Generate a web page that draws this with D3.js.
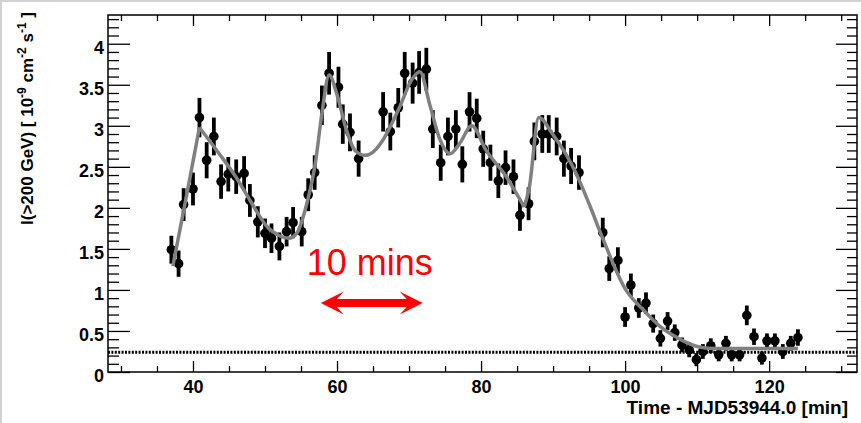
<!DOCTYPE html>
<html>
<head>
<meta charset="utf-8">
<script src="https://cdn.jsdelivr.net/npm/d3@7"></script>
<style>
  body { margin: 0; background: #fff; }
  svg { display: block; }
</style>
</head>
<body>
<div id="chart-area"></div>
<script>
// light curve: flux above 200 GeV vs time (min after MJD53944.0)

const times = [37.0, 38.0, 38.7, 40.0, 40.9, 41.9, 42.9, 43.9, 44.9, 46.0, 47.1, 47.9, 49.0, 50.0, 50.9,
  52.0, 53.0, 53.9, 55.1, 56.0, 56.9, 57.9, 58.9, 60.2, 60.8, 61.8, 63.0, 66.4, 67.4, 68.5, 69.4, 70.5,
  71.4, 72.4, 73.3, 74.4, 75.4, 76.5, 77.4, 78.4, 79.4, 80.3, 81.3, 82.4, 83.4, 84.5, 85.4, 86.6, 87.4,
  88.5, 89.4, 90.5, 91.5, 92.5, 93.6, 96.9, 97.8, 99.0, 100.0, 100.8, 101.9, 102.9, 103.9, 104.9, 105.9,
  106.9, 107.9, 108.9, 109.9, 110.8, 111.9, 113.0, 114.0, 114.8, 115.9, 116.9, 117.9, 119.0, 119.7,
  120.8, 121.9, 123.0, 124.0]

const flux = [1.49, 1.32, 2.04, 2.23, 3.10, 2.58, 2.87, 2.32, 2.41, 2.38, 2.42, 2.09, 1.83, 1.69, 1.63,
  1.53, 1.71, 1.82, 1.71, 2.16, 2.43, 3.25, 3.64, 3.47, 3.02, 2.92, 2.60, 3.17, 2.93, 3.22, 3.64, 3.52,
  3.65, 3.69, 2.96, 2.55, 2.87, 2.96, 2.53, 3.17, 3.09, 2.72, 2.55, 2.33, 2.49, 2.38, 1.91, 2.05, 2.81,
  2.90, 2.90, 2.87, 2.60, 2.51, 2.43, 1.70, 1.26, 1.36, 0.67, 1.06, 0.78, 0.84, 0.59, 0.41, 0.62,
  0.48, 0.33, 0.27, 0.15, 0.25, 0.32, 0.21, 0.35, 0.21, 0.21, 0.69, 0.43, 0.17, 0.38,
  0.38, 0.25, 0.35, 0.42]

const fluxErr = [0.17, 0.16, 0.20, 0.20, 0.24, 0.22, 0.23, 0.21, 0.21, 0.21, 0.21, 0.20, 0.19, 0.18, 0.18,
  0.17, 0.18, 0.19, 0.18, 0.20, 0.21, 0.24, 0.26, 0.25, 0.24, 0.23, 0.22, 0.24, 0.23, 0.24, 0.26, 0.25,
  0.26, 0.26, 0.23, 0.22, 0.23, 0.23, 0.22, 0.24, 0.24, 0.22, 0.22, 0.21, 0.21, 0.21, 0.19, 0.20, 0.23,
  0.23, 0.23, 0.23, 0.22, 0.22, 0.21, 0.18, 0.15, 0.16, 0.12, 0.14, 0.12, 0.13, 0.11, 0.10, 0.11,
  0.10, 0.09, 0.09, 0.08, 0.09, 0.09, 0.08, 0.09, 0.08, 0.08, 0.12, 0.10, 0.08, 0.09,
  0.09, 0.09, 0.09, 0.10]

// fitted model curve; it has sharp corners at the cusp times
const fitTimes = [37.2, 39.0, 40.9, 43.3, 46.0, 48.0, 50.3, 52.0, 53.3, 54.4, 55.8, 57.0, 57.9, 58.9,
  60.0, 61.3, 62.5, 63.9, 65.0, 66.4, 68.7, 70.3, 71.5, 72.9, 74.3, 75.7, 77.0, 78.7, 80.7, 83.5,
  86.0, 86.7, 88.0, 90.0, 93.2, 95.0, 96.8, 100.1, 102.5, 104.8, 106.6, 108.5, 110.0, 111.5, 113.5, 124.0]
const fitFlux = [1.29, 2.10, 2.98, 2.70, 2.37, 2.08, 1.77, 1.66, 1.63, 1.69, 2.05, 2.55, 3.15, 3.62,
  3.38, 2.95, 2.70, 2.64, 2.68, 2.83, 3.23, 3.55, 3.66, 3.25, 2.83, 2.66, 2.78, 3.00, 2.70, 2.38,
  2.01, 2.25, 3.10, 2.89, 2.42, 2.05, 1.65, 1.00, 0.76, 0.56, 0.45, 0.36, 0.31, 0.29, 0.285, 0.285]
const fitCusps = [40.9, 86.0]

const baseline = 0.24
const xTicks = [40, 60, 80, 100, 120]
const yTicks = [0, 0.5, 1, 1.5, 2, 2.5, 3, 3.5, 4]

// annotation
const arrowFrom = 57.75, arrowTo = 71.9, arrowLevel = 0.84
const noteText = "10 mins", noteT = 55.8, noteLevel = 1.18

const W = 861, H = 423
const FRAME = { LEFT: 108, RIGHT: 857, TOP: 15, BOTTOM: 372 }
const FONT = "'Liberation Sans', Arial, Helvetica, sans-serif"

const svg = d3.select("#chart-area").append("svg")
  .attr("width", W)
  .attr("height", H)

svg.append("rect").attr("width", W).attr("height", H).attr("fill", "#fff")
// thin grey canvas border on left / top
svg.append("line").attr("x1", 1).attr("x2", 1).attr("y1", 0).attr("y2", H)
  .attr("stroke", "#d2d2d2").attr("stroke-width", 2)
svg.append("line").attr("x1", 0).attr("x2", W).attr("y1", 1).attr("y2", 1)
  .attr("stroke", "#d2d2d2").attr("stroke-width", 2)

const x = d3.scaleLinear().domain([28.2, 132.2]).range([FRAME.LEFT, FRAME.RIGHT])
const y = d3.scaleLinear().domain([0, 4.35]).range([FRAME.BOTTOM, FRAME.TOP])

const xMinor = d3.range(30, 131, 5).filter(v => !xTicks.includes(v))
const yMinor = d3.range(0, 44).map(i => +(i / 10).toFixed(1)).filter(v => !yTicks.includes(v))

function styleAxis(sel) {
  sel.select(".domain").remove()
  sel.selectAll("line").attr("stroke", "#000").attr("stroke-width", 1.3)
  sel.selectAll("text")
    .attr("font-family", FONT)
    .attr("font-weight", "bold")
    .attr("font-size", "18px")
    .attr("fill", "#000")
}

// bottom axis
svg.append("g").attr("transform", `translate(0, ${FRAME.BOTTOM})`)
  .call(d3.axisBottom(x).tickValues(xTicks).tickSize(-11).tickPadding(8).tickFormat(d3.format("d")))
  .call(styleAxis)
svg.append("g").attr("transform", `translate(0, ${FRAME.BOTTOM})`)
  .call(d3.axisBottom(x).tickValues(xMinor).tickSize(-6).tickFormat(""))
  .call(styleAxis)
// top axis
svg.append("g").attr("transform", `translate(0, ${FRAME.TOP})`)
  .call(d3.axisTop(x).tickValues(xTicks).tickSize(-11).tickFormat(""))
  .call(styleAxis)
svg.append("g").attr("transform", `translate(0, ${FRAME.TOP})`)
  .call(d3.axisTop(x).tickValues(xMinor).tickSize(-6).tickFormat(""))
  .call(styleAxis)
// left axis
svg.append("g").attr("transform", `translate(${FRAME.LEFT}, 0)`)
  .call(d3.axisLeft(y).tickValues(yTicks).tickSize(-22).tickPadding(4).tickFormat(d => d))
  .call(styleAxis)
  .selectAll("text").attr("dy", "0.55em")
svg.append("g").attr("transform", `translate(${FRAME.LEFT}, 0)`)
  .call(d3.axisLeft(y).tickValues(yMinor).tickSize(-11).tickFormat(""))
  .call(styleAxis)
// right axis
svg.append("g").attr("transform", `translate(${FRAME.RIGHT}, 0)`)
  .call(d3.axisRight(y).tickValues(yTicks).tickSize(-21).tickFormat(""))
  .call(styleAxis)
svg.append("g").attr("transform", `translate(${FRAME.RIGHT}, 0)`)
  .call(d3.axisRight(y).tickValues(yMinor).tickSize(-10).tickFormat(""))
  .call(styleAxis)

// frame
svg.append("rect")
  .attr("x", FRAME.LEFT).attr("y", FRAME.TOP)
  .attr("width", FRAME.RIGHT - FRAME.LEFT).attr("height", FRAME.BOTTOM - FRAME.TOP)
  .attr("fill", "none").attr("stroke", "#000").attr("stroke-width", 1.5)

// dotted baseline level
svg.append("line")
  .attr("x1", x.range()[0]).attr("x2", x.range()[1])
  .attr("y1", y(baseline)).attr("y2", y(baseline))
  .attr("stroke", "#000").attr("stroke-width", 3)
  .attr("stroke-dasharray", "2,1.4")

// data points with errors
const points = times.map((t, i) => ({ t: t, v: flux[i], e: fluxErr[i] }))

svg.append("g").selectAll("line")
  .data(points)
  .join("line")
  .attr("x1", d => x(d.t)).attr("x2", d => x(d.t))
  .attr("y1", d => y(d.v - d.e)).attr("y2", d => y(d.v + d.e))
  .attr("stroke", "#000").attr("stroke-width", 3.8)

svg.append("g").selectAll("circle")
  .data(points)
  .join("circle")
  .attr("cx", d => x(d.t))
  .attr("cy", d => y(d.v))
  .attr("r", 4.8)
  .attr("fill", "#000")

// fit curve, split at the cusps so the corners stay sharp
const fit = fitTimes.map((t, i) => [t, fitFlux[i]])
const bounds = [fitTimes[0], ...fitCusps, fitTimes[fitTimes.length - 1]]
const pieces = d3.pairs(bounds).map(([a, b]) => fit.filter(p => p[0] >= a && p[0] <= b))
const fitLine = d3.line().x(d => x(d[0])).y(d => y(d[1])).curve(d3.curveMonotoneX)

svg.append("path")
  .attr("d", pieces.map(p => fitLine(p)).join(""))
  .attr("fill", "none")
  .attr("stroke", "#808080")
  .attr("stroke-width", 3.5)
  .attr("stroke-linejoin", "round")

// axis titles
svg.append("text")
  .attr("x", 848).attr("y", 414)
  .attr("text-anchor", "end")
  .attr("font-family", FONT).attr("font-weight", "bold").attr("font-size", "19px")
  .text("Time - MJD53944.0 [min]")

const yTitle = svg.append("text")
  .attr("transform", "translate(33, 12) rotate(-90)")
  .attr("text-anchor", "end")
  .attr("font-family", FONT).attr("font-weight", "bold").attr("font-size", "17px")
yTitle.append("tspan").text("I(>200 GeV) [ 10")
yTitle.append("tspan").attr("font-size", "12px").attr("dy", -7).text("-9")
yTitle.append("tspan").attr("dy", 7).text(" cm")
yTitle.append("tspan").attr("font-size", "12px").attr("dy", -7).text("-2")
yTitle.append("tspan").attr("dy", 7).text(" s")
yTitle.append("tspan").attr("font-size", "12px").attr("dy", -7).text("-1")
yTitle.append("tspan").attr("dy", 7).text(" ]")

// red annotation
svg.append("text")
  .attr("x", x(noteT)).attr("y", y(noteLevel))
  .attr("font-family", FONT).attr("font-size", "36px")
  .attr("fill", "#f00")
  .text(noteText)

const ax0 = x(arrowFrom), ax1 = x(arrowTo), ay = y(arrowLevel)
const headL = 23, headW = 11.5, notch = 16, shaft = 4
svg.append("path")
  .attr("d", [
    `M${ax0},${ay}`,
    `L${ax0 + headL},${ay - headW}`,
    `L${ax0 + notch},${ay - shaft}`,
    `L${ax1 - notch},${ay - shaft}`,
    `L${ax1 - headL},${ay - headW}`,
    `L${ax1},${ay}`,
    `L${ax1 - headL},${ay + headW}`,
    `L${ax1 - notch},${ay + shaft}`,
    `L${ax0 + notch},${ay + shaft}`,
    `L${ax0 + headL},${ay + headW}`,
    "Z"
  ].join(""))
  .attr("fill", "#f00")
</script>
</body>
</html>
